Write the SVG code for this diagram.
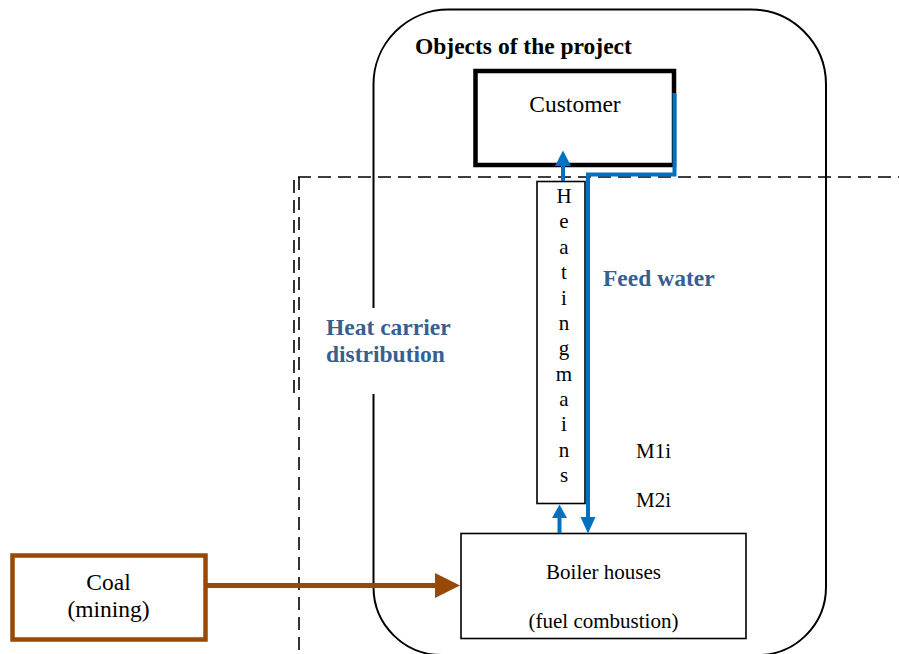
<svg xmlns="http://www.w3.org/2000/svg" width="899" height="654" viewBox="0 0 899 654">
  <defs>
    <style>
      text { font-family: "Liberation Serif", "Times New Roman", serif; fill: #000; }
      .lbl { font-size: 23.5px; }
      .sm { font-size: 21px; }
      .bold { font-weight: bold; font-size: 23.5px; }
      .blue { fill: #376092; }
      .mid { text-anchor: middle; }
      .dash { fill: none; stroke: #000; stroke-width: 1.6; stroke-dasharray: 13 7; }
      .blueline { fill: none; stroke: #0070C0; stroke-width: 4; }
      .bluehead { fill: #0070C0; }
    </style>
  </defs>

  <rect width="899" height="654" fill="#fff"/>

  <!-- Area boundaries -->
  <g id="heat-carrier-area">
    <path class="dash" d="M298 177 H899"/>
    <path class="dash" d="M299 177 V654"/>
    <path class="dash" d="M294 180 V394"/>
    <text class="bold blue" x="326" y="335">Heat carrier</text>
    <text class="bold blue" x="326" y="362">distribution</text>
  </g>

  <g id="project-objects">
    <path d="M373.5 308 V85 A75 75 0 0 1 448.5 9.5 H751 A75 75 0 0 1 826 84.5 V587 A68 68 0 0 1 758 655 H441.5 A68 68 0 0 1 373.5 587 V394" fill="none" stroke="#000" stroke-width="2"/>
    <text class="bold" x="415" y="54">Objects of the project</text>
  </g>

  <!-- Nodes -->
  <g id="customer">
    <rect x="475.5" y="71" width="198.5" height="94" fill="#fff" stroke="#000" stroke-width="4.5"/>
    <text class="lbl mid" x="575" y="112">Customer</text>
  </g>

  <g id="heating-mains">
    <rect x="537" y="181.5" width="48" height="322" fill="#fff" stroke="#000" stroke-width="1.6"/>
    <g class="sm mid">
      <text class="sm mid" x="564" y="203">H</text>
      <text class="sm mid" x="564" y="228.4">e</text>
      <text class="sm mid" x="564" y="253.8">a</text>
      <text class="sm mid" x="564" y="279.1">t</text>
      <text class="sm mid" x="564" y="304.5">i</text>
      <text class="sm mid" x="564" y="329.9">n</text>
      <text class="sm mid" x="564" y="355.3">g</text>
      <text class="sm mid" x="564" y="380.6">m</text>
      <text class="sm mid" x="564" y="406">a</text>
      <text class="sm mid" x="564" y="431.4">i</text>
      <text class="sm mid" x="564" y="456.8">n</text>
      <text class="sm mid" x="564" y="482">s</text>
    </g>
  </g>

  <g id="boiler-houses">
    <rect x="461" y="533.5" width="285" height="105" fill="#fff" stroke="#000" stroke-width="1.6"/>
    <text class="sm mid" x="603.5" y="579">Boiler houses</text>
    <text class="sm mid" x="603.5" y="628">(fuel combustion)</text>
  </g>

  <g id="coal">
    <rect x="12.5" y="555.5" width="193" height="84" fill="#fff" stroke="#984807" stroke-width="4.5"/>
    <text class="lbl mid" x="108.5" y="590">Coal</text>
    <text class="lbl mid" x="108.5" y="617">(mining)</text>
  </g>

  <g id="labels">
    <text class="bold blue" x="603" y="286">Feed water</text>
    <text class="sm" x="636" y="458">M1i</text>
    <text class="sm" x="636" y="507">M2i</text>
  </g>

  <!-- Connectors -->
  <g id="connectors">
    <!-- feed water return from customer to boiler houses -->
    <path class="blueline" d="M674.5 93 V174.5 H588 V518"/>
    <polygon class="bluehead" points="580.5,517 595.5,517 588,533.5"/>
    <!-- heating mains supply to customer -->
    <path class="blueline" d="M563 181 V165"/>
    <polygon class="bluehead" points="555,166 571,166 563,150.5"/>
    <!-- boiler houses to heating mains -->
    <path class="blueline" d="M559.5 533 V517"/>
    <polygon class="bluehead" points="552,518 567,518 559.5,504.5"/>
    <!-- coal delivery -->
    <path d="M207 585.5 H436" fill="none" stroke="#984807" stroke-width="5"/>
    <polygon points="435,573 460,585.5 435,598" fill="#984807"/>
  </g>
</svg>
